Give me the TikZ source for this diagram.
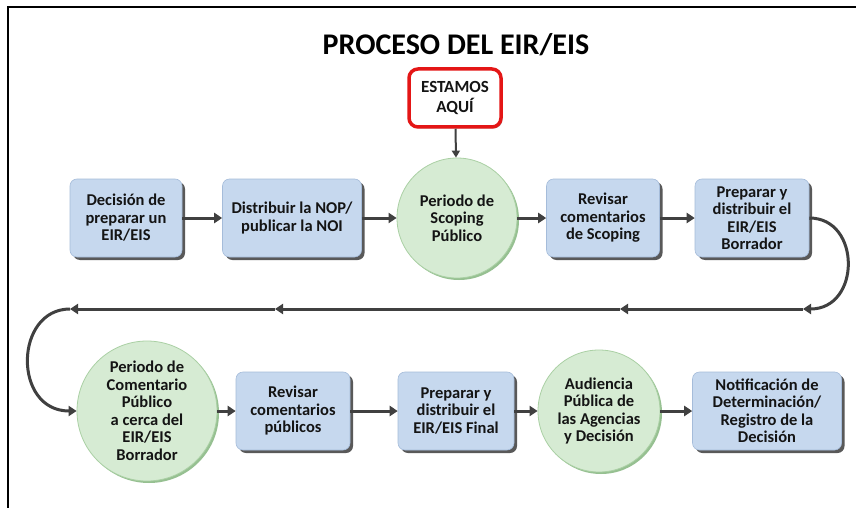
\documentclass[tikz,border=0pt]{standalone}
\usepackage{fontspec}
\setmainfont{Carlito}
\usetikzlibrary{arrows.meta,shadows}
\definecolor{boxblue}{RGB}{198,216,238}
\definecolor{boxedge}{RGB}{165,188,218}
\definecolor{circgreen}{RGB}{214,235,211}
\definecolor{circedge}{RGB}{170,208,164}
\definecolor{circshadow}{RGB}{150,192,145}
\definecolor{arrgray}{RGB}{64,64,64}
\definecolor{herered}{RGB}{228,22,22}
\definecolor{txtcol}{RGB}{20,20,20}
\begin{document}
\begin{tikzpicture}[x=1pt,y=-1pt,
  txt/.style={font=\bfseries\fontsize{16.5}{17.5}\selectfont, text=txtcol, align=center},
  bx/.style={txt, rectangle, rounded corners=7pt, fill=boxblue, draw=boxedge, line width=0.6pt,
    minimum height=78pt, inner sep=2pt,
    drop shadow={shadow xshift=3pt, shadow yshift=-3pt, fill=black!65, opacity=1}},
  circ/.style={txt, circle, fill=circgreen, draw=circedge, line width=0.8pt, inner sep=0pt,
    drop shadow={shadow xshift=2pt, shadow yshift=-2pt, fill=circshadow, opacity=1}},
  herebox/.style={txt, font=\bfseries\fontsize{17}{20}\selectfont, rectangle, rounded corners=9pt,
    fill=white, draw=herered, line width=3.5pt,
    minimum width=92pt, minimum height=58pt, inner sep=2pt,
    drop shadow={shadow xshift=1.5pt, shadow yshift=-1.5pt, fill=black!35, opacity=1}},
  arr/.style={draw=arrgray, line width=3pt, -{Triangle[length=8pt,width=10pt]}},
  thinarr/.style={draw=arrgray, line width=2pt, -{Triangle[length=7pt,width=8pt]}}
]
\useasboundingbox (0,0) rectangle (856,508);
\fill[white] (0,0) rectangle (856,508);
\draw[line width=2.5pt] (8,508) -- (8,7) -- (856,7);

\node[font=\bfseries\fontsize{30}{32}\selectfont, text=black] (title) at (456,45) {PROCESO DEL EIR/EIS};
\node[herebox] (here) at (455,98) {ESTAMOS\\AQUÍ};

% row 1
\node[bx, minimum width=112pt] (b1) at (126,218) {Decisión de\\preparar un\\EIR/EIS};
\node[bx, minimum width=139pt] (b2) at (292,218) {Distribuir la NOP/\\publicar la NOI};
\node[circ, minimum size=120pt] (c1) at (457,218) {Periodo de\\Scoping\\Público};
\node[bx, minimum width=113pt] (b3) at (603,218) {Revisar\\comentarios\\de Scoping};
\node[bx, minimum width=114pt] (b4) at (752,218) {Preparar y\\distribuir el\\EIR/EIS\\Borrador};

% row 2
\node[circ, minimum size=140pt] (c2) at (147,411) {Periodo de\\Comentario\\Público\\a cerca del\\EIR/EIS\\Borrador};
\node[bx, minimum width=114pt] (b5) at (293,411) {Revisar\\comentarios\\públicos};
\node[bx, minimum width=116pt] (b6) at (456,411) {Preparar y\\distribuir el\\EIR/EIS Final};
\node[circ, minimum size=122pt] (c3) at (599,411) {Audiencia\\Pública de\\las Agencias\\y Decisión};
\node[bx, minimum width=149pt] (b7) at (767,411) {Notificación de\\Determinación/\\Registro de la\\Decisión};

% connectors
\draw[thinarr] (here) -- (c1);
\draw[arr] (b1) -- (b2);
\draw[arr] (b2) -- (c1);
\draw[arr] (c1) -- (b3);
\draw[arr] (b3) -- (b4);

\coordinate (r1) at (803,309);
\coordinate (m1) at (620,309);
\coordinate (m2) at (275,309);
\coordinate (l1) at (70,309);
\draw[arr] (b4.east) .. controls +(52,0) and +(58,0) .. (r1);
\draw[arr] (r1) -- (m1);
\draw[arr] (m1) -- (m2);
\draw[arr] (m2) -- (l1);
\draw[arr] (l1) .. controls +(-56,0) and +(-64,0) .. (c2.west);

\draw[arr] (c2) -- (b5);
\draw[arr] (b5) -- (b6);
\draw[arr] (b6) -- (c3);
\draw[arr] (c3) -- (b7);
\end{tikzpicture}
\end{document}
